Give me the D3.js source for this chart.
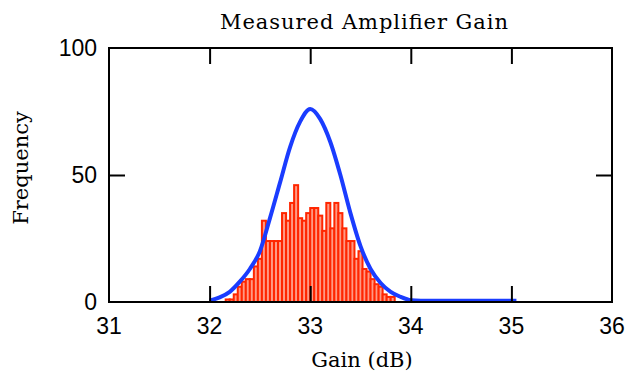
<!DOCTYPE html>
<html>
<head>
<meta charset="utf-8">
<script src="https://cdnjs.cloudflare.com/ajax/libs/d3/7.8.5/d3.min.js"></script>
<style>
  body { margin: 0; background: #fff; }
  svg { display: block; }
</style>
</head>
<body>
<svg></svg>
<script>
// histogram of measured gain, bins 0.04 dB wide
var binStart = 32.16;
var binWidth = 0.04;
var counts = [1,1,3,6,8,9,9,14,17,32,24,24,24,24,35,32,39,46,33,32,
              35,37,37,34,28,39,29,39,35,29,24,24,17,20,13,12,9,7,6,3,2,2];

// fitted curve, every 0.1 dB
var fitGain = [32.0,32.1,32.2,32.3,32.4,32.5,32.6,32.7,32.8,32.9,33.0,
               33.1,33.2,33.3,33.4,33.5,33.6,33.7,33.8,33.9,34.0,
               34.1,34.2,34.3,34.4,34.5,34.6,34.7,34.8,34.9,35.0,35.05];
var fitFreq = [0.5,1.8,4,8,13,20,33,47,61,71,76,
               72,63,50,35,22,13,7.5,4,2,0.7,
               0.5,0.5,0.5,0.5,0.5,0.5,0.5,0.5,0.5,0.5,0.5];

var xTicks = [31,32,33,34,35,36];
var yTicks = [0,50,100];

var width = 629, height = 374;
var pLeft = 109, pRight = 612, pTop = 48, pBot = 302;

var svg = d3.select("svg")
            .attr("width", width)
            .attr("height", height);

var xScale = d3.scaleLinear().domain([31,36]).range([pLeft,pRight]);
var yScale = d3.scaleLinear().domain([0,100]).range([pBot,pTop]);

var bins = counts.map(function(c,i){
  return {x0: binStart + i*binWidth, x1: binStart + (i+1)*binWidth, n: c};
});

svg.append("g")
   .selectAll("rect")
   .data(bins)
   .enter()
   .append("rect")
   .attr("x", function(d){ return xScale(d.x0); })
   .attr("y", function(d){ return yScale(d.n); })
   .attr("width", function(d){ return xScale(d.x1) - xScale(d.x0); })
   .attr("height", function(d){ return pBot - yScale(d.n); })
   .attr("fill", "#ff9a84")
   .attr("stroke", "#ff2600")
   .attr("stroke-width", 2);

var line = d3.line()
             .x(function(d,i){ return xScale(fitGain[i]); })
             .y(function(d){ return yScale(d); })
             .curve(d3.curveMonotoneX);

svg.append("path")
   .datum(fitFreq)
   .attr("d", line)
   .attr("fill", "none")
   .attr("stroke", "#1a3cff")
   .attr("stroke-width", 4)
   .attr("stroke-linejoin", "round");

// frame
svg.append("rect")
   .attr("x", pLeft).attr("y", pTop)
   .attr("width", pRight-pLeft).attr("height", pBot-pTop)
   .attr("fill", "none")
   .attr("stroke", "#000")
   .attr("stroke-width", 2);

// inner ticks on all four sides
var inner = xTicks.slice(1, -1);
svg.append("g").call(d3.axisBottom(xScale).tickValues(inner).tickSizeInner(-16).tickSizeOuter(0).tickFormat(""))
   .attr("transform", "translate(0," + pBot + ")");
svg.append("g").call(d3.axisTop(xScale).tickValues(inner).tickSizeInner(-16).tickSizeOuter(0).tickFormat(""))
   .attr("transform", "translate(0," + pTop + ")");
svg.append("g").call(d3.axisLeft(yScale).tickValues([50]).tickSizeInner(-16).tickSizeOuter(0).tickFormat(""))
   .attr("transform", "translate(" + pLeft + ",0)");
svg.append("g").call(d3.axisRight(yScale).tickValues([50]).tickSizeInner(-16).tickSizeOuter(0).tickFormat(""))
   .attr("transform", "translate(" + pRight + ",0)");
svg.selectAll(".domain").remove();
svg.selectAll(".tick line").attr("stroke", "#000").attr("stroke-width", 2);

// tick labels
svg.append("g")
   .selectAll("text")
   .data(xTicks)
   .enter()
   .append("text")
   .attr("x", function(d){ return xScale(d); })
   .attr("y", 334)
   .attr("text-anchor", "middle")
   .attr("font-family", "Liberation Sans, Arial, sans-serif")
   .attr("font-size", 23)
   .text(function(d){ return d; });

svg.append("g")
   .selectAll("text")
   .data(yTicks)
   .enter()
   .append("text")
   .attr("x", 97)
   .attr("y", function(d){ return yScale(d) + 8; })
   .attr("text-anchor", "end")
   .attr("font-family", "Liberation Sans, Arial, sans-serif")
   .attr("font-size", 23)
   .text(function(d){ return d; });

// titles
svg.append("text")
   .attr("x", 364).attr("y", 29)
   .attr("text-anchor", "middle")
   .attr("font-family", "DejaVu Serif, serif")
   .attr("font-size", 21)
   .attr("textLength", 288)
   .text("Measured Amplifier Gain");

svg.append("text")
   .attr("x", 362).attr("y", 367)
   .attr("text-anchor", "middle")
   .attr("font-family", "DejaVu Serif, serif")
   .attr("font-size", 21)
   .text("Gain (dB)");

svg.append("text")
   .attr("transform", "translate(28,168) rotate(-90)")
   .attr("text-anchor", "middle")
   .attr("font-family", "DejaVu Serif, serif")
   .attr("font-size", 21)
   .text("Frequency");
</script>
</body>
</html>
